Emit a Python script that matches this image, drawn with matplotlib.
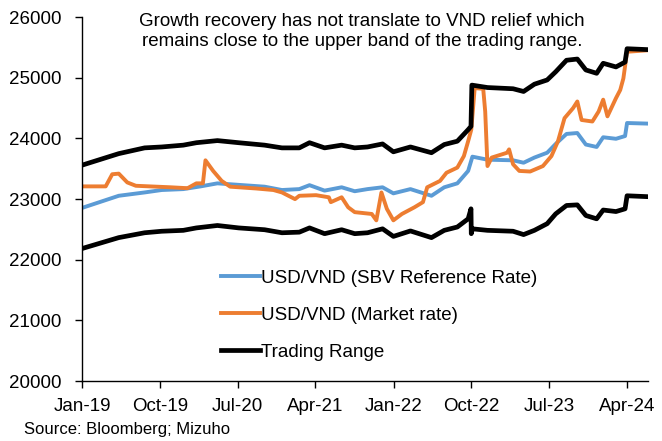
import matplotlib
matplotlib.use("Agg")
import matplotlib.pyplot as plt
import pandas as pd

plt.rcParams['font.family'] = ['Liberation Sans', 'DejaVu Sans']

# ---- data ----
upper_dates = ["2019-01-01", "2019-05-10", "2019-08-09", "2019-10-08", "2019-12-23", "2020-02-07",
               "2020-04-21", "2020-07-05", "2020-10-04", "2020-12-04", "2021-02-03", "2021-03-11",
               "2021-05-03", "2021-07-02", "2021-08-17", "2021-10-01", "2021-11-23", "2021-12-31",
               "2022-03-01", "2022-05-14", "2022-06-28", "2022-08-13", "2022-09-20", "2022-09-30",
               "2022-10-03", "2022-11-27", "2023-02-25", "2023-04-03", "2023-05-11", "2023-06-25",
               "2023-07-25", "2023-09-01", "2023-10-09", "2023-11-08", "2023-12-16", "2024-01-08",
               "2024-02-22", "2024-03-25", "2024-04-01", "2024-06-14"]
upper_vals = [23560, 23750, 23845, 23860, 23890, 23930,
              23965, 23930, 23890, 23845, 23845, 23930,
              23845, 23890, 23845, 23860, 23910, 23780,
              23860, 23765, 23900, 23955, 24145, 24200,
              24880, 24840, 24820, 24775, 24895, 24965,
              25100, 25290, 25310, 25130, 25075, 25240,
              25180, 25260, 25480, 25465]

lower_dates = ["2019-01-01", "2019-05-10", "2019-08-09", "2019-10-08", "2019-12-23", "2020-02-07",
               "2020-04-21", "2020-07-05", "2020-10-04", "2020-12-04", "2021-02-03", "2021-03-11",
               "2021-05-03", "2021-07-02", "2021-08-17", "2021-10-01", "2021-11-23", "2021-12-31",
               "2022-03-01", "2022-05-14", "2022-06-28", "2022-08-13", "2022-09-20", "2022-09-30",
               "2022-10-01", "2022-10-05", "2022-11-27", "2023-02-25", "2023-04-03", "2023-05-11",
               "2023-06-25", "2023-07-25", "2023-09-01", "2023-10-09", "2023-11-08", "2023-12-16",
               "2024-01-08", "2024-02-22", "2024-03-25", "2024-04-01", "2024-06-14"]
lower_vals = [22185, 22365, 22445, 22470, 22485, 22525,
              22565, 22525, 22495, 22445, 22455, 22525,
              22430, 22495, 22430, 22445, 22510, 22385,
              22475, 22365, 22485, 22540, 22675, 22840,
              22430, 22510, 22485, 22470, 22415, 22485,
              22595, 22757, 22895, 22905, 22730, 22675,
              22820, 22795, 22840, 23055, 23040]

ref_dates = ["2019-01-01", "2019-05-10", "2019-08-09", "2019-10-08", "2019-12-23", "2020-02-22",
             "2020-04-21", "2020-07-05", "2020-10-04", "2020-12-04", "2021-02-03", "2021-03-11",
             "2021-05-03", "2021-07-02", "2021-08-17", "2021-10-01", "2021-11-23", "2021-12-31",
             "2022-03-01", "2022-05-14", "2022-06-28", "2022-08-13", "2022-09-20", "2022-10-05",
             "2022-11-27", "2023-02-25", "2023-04-03", "2023-05-11", "2023-06-25", "2023-07-25",
             "2023-09-01", "2023-10-09", "2023-11-08", "2023-12-16", "2024-01-08", "2024-02-22",
             "2024-03-25", "2024-04-01", "2024-06-14"]
ref_vals = [22855, 23055, 23110, 23150, 23165, 23210,
            23260, 23235, 23205, 23150, 23165, 23230,
            23140, 23195, 23130, 23165, 23195, 23095,
            23165, 23055, 23195, 23260, 23465, 23700,
            23650, 23640, 23600, 23685, 23765, 23910,
            24075, 24090, 23900, 23860, 24020, 23995,
            24040, 24255, 24245]

mkt_dates = ["2019-01-01", "2019-03-25", "2019-04-17", "2019-05-10", "2019-06-09", "2019-07-09",
             "2019-11-08", "2020-01-07", "2020-02-07", "2020-03-01", "2020-03-10", "2020-04-06",
             "2020-05-06", "2020-06-05", "2020-09-05", "2020-11-04", "2020-12-04", "2021-01-19",
             "2021-02-03", "2021-04-03", "2021-05-18", "2021-05-25", "2021-07-02", "2021-07-25",
             "2021-08-17", "2021-10-16", "2021-11-01", "2021-11-19", "2021-12-08", "2021-12-31",
             "2022-01-30", "2022-03-15", "2022-04-14", "2022-04-29", "2022-06-13", "2022-07-06",
             "2022-08-13", "2022-09-05", "2022-09-20", "2022-10-01", "2022-10-13", "2022-11-12",
             "2022-11-19", "2022-11-27", "2022-12-12", "2023-02-04", "2023-02-11", "2023-02-25",
             "2023-03-19", "2023-04-26", "2023-06-10", "2023-07-10", "2023-08-02", "2023-08-25",
             "2023-09-24", "2023-10-09", "2023-10-24", "2023-12-01", "2023-12-23", "2024-01-08",
             "2024-01-23", "2024-02-22", "2024-03-08", "2024-03-19", "2024-04-01", "2024-06-14"]
mkt_vals = [23210, 23210, 23410, 23420, 23275, 23220,
            23195, 23180, 23260, 23260, 23640, 23465,
            23300, 23205, 23175, 23150, 23110, 23000,
            23055, 23065, 23030, 22950, 23030, 22865,
            22785, 22755, 22650, 23110, 22840, 22650,
            22755, 22865, 22950, 23195, 23300, 23435,
            23520, 23710, 23955, 24145, 24830, 24820,
            24445, 23545, 23685, 23765, 23820, 23575,
            23465, 23455, 23545, 23710, 23955, 24335,
            24500, 24610, 24305, 24280, 24445, 24640,
            24365, 24665, 24800, 24990, 25430, 25455]

tick_dates = ["2019-01-01", "2019-10-01", "2020-07-01", "2021-04-01",
              "2022-01-01", "2022-10-01", "2023-07-01", "2024-04-01"]
tick_labels = ["Jan-19", "Oct-19", "Jul-20", "Apr-21", "Jan-22", "Oct-22", "Jul-23", "Apr-24"]

y_ticks = [20000, 21000, 22000, 23000, 24000, 25000, 26000]

# ---- plot ----
fig = plt.figure(figsize=(6.62, 4.41), dpi=100)
ax = fig.add_axes([0.124, 0.136, 0.855, 0.825])

blue = "#5B9BD5"
orange = "#ED7D31"

ax.plot(pd.to_datetime(ref_dates), ref_vals, color=blue, lw=2.8,
        label="USD/VND (SBV Reference Rate)", solid_joinstyle="round")
ax.plot(pd.to_datetime(mkt_dates), mkt_vals, color=orange, lw=2.8,
        label="USD/VND (Market rate)", solid_joinstyle="round")
ax.plot(pd.to_datetime(upper_dates), upper_vals, color="black", lw=3.4,
        label="Trading Range", solid_joinstyle="round")
ax.plot(pd.to_datetime(lower_dates), lower_vals, color="black", lw=3.4,
        solid_joinstyle="round")

ax.set_ylim(20000, 26000)
ax.set_yticks(y_ticks)
ax.set_xlim(pd.Timestamp("2019-01-01"), pd.Timestamp("2024-06-14"))
ax.set_xticks(pd.to_datetime(tick_dates))
ax.set_xticklabels(tick_labels)

for s in ["top", "right"]:
    ax.spines[s].set_visible(False)
for s in ["left", "bottom"]:
    ax.spines[s].set_color("#000000")
    ax.spines[s].set_linewidth(1.0)
ax.tick_params(axis="both", direction="out", length=5, width=1.0, labelsize=13.5, colors="black")
ax.tick_params(axis="x", pad=7)
ax.tick_params(axis="y", pad=10)

ax.text(0.495, 1.012, "Growth recovery has not translate to VND relief which\n"
        "remains close to the upper band of the trading range.",
        transform=ax.transAxes, ha="center", va="top", fontsize=13.5, linespacing=1.25)

leg = ax.legend(loc="lower left", bbox_to_anchor=(0.245, 0.055), frameon=False, fontsize=13.5,
                labelspacing=1.06, handlelength=2.1, handletextpad=0.05, borderaxespad=0,
                borderpad=0)

fig.text(0.037, 0.008, "Source: Bloomberg; Mizuho", fontsize=12, ha="left", va="bottom")

fig.savefig("out.png", dpi=100)
